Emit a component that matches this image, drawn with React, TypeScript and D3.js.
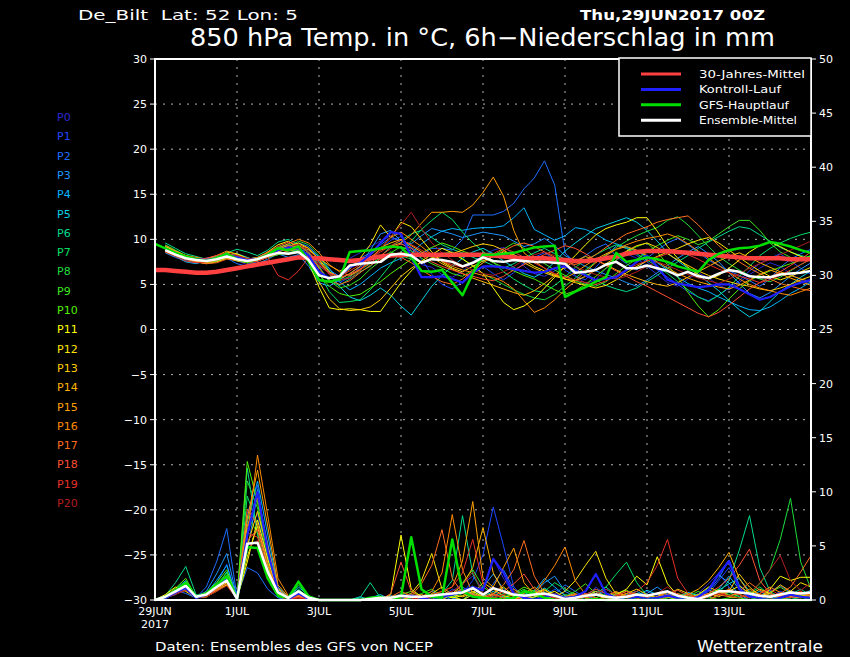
import React from 'react';
import * as d3 from 'd3';

// ---------------- DATA ----------------
// time axis: 6-hourly from 29JUN2017 00Z (hour 0) to hour 384
const dateLabels = ['29JUN', '1JUL', '3JUL', '5JUL', '7JUL', '9JUL', '11JUL', '13JUL'];
const dateHours = [0, 48, 96, 144, 192, 240, 288, 336];
const tempTicks = [-30, -25, -20, -15, -10, -5, 0, 5, 10, 15, 20, 25, 30];
const precTicks = [0, 5, 10, 15, 20, 25, 30, 35, 40, 45, 50];
const memberNames = ['P0','P1','P2','P3','P4','P5','P6','P7','P8','P9','P10','P11','P12','P13','P14','P15','P16','P17','P18','P19','P20'];
const memberColors = ['#2a2ad2','#1e46ff','#1e6eff','#1e96ff','#00b4ff','#00d2e6','#00dc8c','#00e164','#1edc3c','#3ce61e','#50f000','#ffff00','#ffe600','#ffcd00','#ffb400','#ffa000','#ff8c00','#ff6e1e','#ff5032','#e63228','#b41e1e'];

// 850 hPa temperature of members, from hour 6
const t00 = [9.0,8.4,7.8,7.5,7.4,7.9,8.3,7.6,7.2,7.9,8.6,9.0,8.8,9.2,8.1,6.5,5.6,6.0,7.9,8.5,9.2,9.8,10.4,9.6,8.8,7.2,6.9,6.1,5.8,6.4,7.5,8.2,8.8,9.1,8.4,7.0,6.2,5.9,6.5,7.2,6.0,5.1,5.5,6.8,7.7,8.4,7.9,7.0,6.1,5.2,4.8,5.6,6.3,5.7,4.9,4.4,5.2,6.1,6.8,7.4,7.0,6.2,5.5,5.0];
const t01 = [9.3,8.6,8.0,7.6,7.3,7.6,8.0,8.2,7.7,7.5,8.3,8.9,9.4,9.0,8.2,7.0,6.4,5.2,5.8,6.9,7.6,8.9,9.9,10.3,9.0,7.8,6.1,5.0,4.5,5.3,6.4,7.0,6.2,5.5,6.3,7.4,8.0,8.5,7.8,6.6,5.9,5.5,6.9,8.1,9.3,9.0,8.2,7.5,6.6,5.8,5.0,4.2,3.6,3.2,3.8,4.6,5.4,6.5,7.3,7.9,8.4,7.6,6.8,6.1];
const t02 = [8.7,8.2,7.7,7.8,7.9,8.1,7.9,7.3,7.0,7.6,8.1,8.7,9.1,9.6,9.2,8.0,6.6,5.9,6.8,7.9,8.5,9.4,10.2,9.9,9.1,8.4,9.0,9.0,8.8,10.0,12.7,12.7,12.7,13.1,14.0,15.6,16.8,18.7,16.0,8.5,7.4,8.2,9.0,9.5,8.1,7.3,6.6,7.9,8.8,9.6,10.1,9.4,8.6,7.7,7.1,6.5,6.0,5.4,4.8,5.6,6.9,7.8,8.4,8.9];
const t03 = [8.5,8.0,7.6,7.4,7.5,7.7,8.2,7.9,7.4,7.3,7.8,8.4,8.0,8.3,7.0,5.2,4.8,5.5,6.2,7.0,8.8,10.6,11.0,9.8,9.5,10.4,11.2,10.9,10.6,10.2,10.5,10.8,10.6,10.4,9.8,9.2,9.5,10.1,9.3,8.2,7.6,7.0,6.5,6.1,5.7,5.2,4.8,5.5,6.3,7.1,7.9,8.6,9.2,8.4,7.5,6.3,5.1,4.0,3.5,4.1,5.0,5.9,6.7,7.4];
const t04 = [8.8,8.1,7.5,7.3,7.6,8.0,8.4,8.1,7.8,8.0,8.5,8.8,9.0,8.7,8.9,8.1,6.8,5.3,4.4,5.0,5.9,6.8,7.4,7.9,8.4,9.5,10.3,10.9,11.2,11.0,11.2,11.3,11.3,11.5,12.4,13.5,11.1,10.5,9.9,10.4,11.3,11.1,10.6,9.9,9.5,9.1,8.7,8.0,7.4,6.6,5.8,5.1,4.6,4.2,3.6,3.1,2.6,2.2,2.1,2.5,3.2,4.0,4.6,5.3];
const t05 = [9.1,8.7,8.1,7.8,7.7,7.9,8.2,8.4,8.0,7.6,8.0,8.3,8.7,8.9,8.4,7.5,6.2,4.8,3.6,3.2,3.8,4.6,3.8,2.6,1.6,3.2,4.8,6.0,7.0,7.9,8.6,9.0,8.4,7.6,6.9,6.2,5.8,6.4,7.5,8.7,9.6,10.4,11.2,11.6,12.0,12.4,11.9,11.0,9.8,8.5,7.6,6.8,6.1,5.2,4.3,3.2,2.2,1.4,2.0,3.1,4.2,5.0,5.8,6.5];
const t06 = [9.6,9.0,8.4,8.1,7.8,7.6,8.5,8.9,8.6,8.2,8.8,9.7,10.0,9.4,8.6,7.0,5.3,4.9,5.6,6.4,7.0,8.1,9.2,9.9,10.6,11.0,10.2,9.4,8.9,8.5,8.0,7.6,7.1,6.8,7.3,7.9,8.5,9.0,8.4,7.8,7.0,6.2,5.5,4.9,4.5,4.2,4.6,5.3,6.0,6.8,7.5,8.2,9.0,9.7,10.3,10.9,11.4,11.2,10.5,9.8,9.1,8.6,8.2,7.9];
const t07 = [9.2,8.5,8.0,7.9,7.8,8.1,8.4,8.0,7.5,7.8,8.4,9.1,9.5,9.0,8.0,6.3,4.2,3.0,3.1,3.3,4.4,5.8,7.2,8.6,9.8,11.1,12.1,13.0,12.2,10.8,9.6,8.7,7.5,6.4,5.6,4.9,4.3,4.1,4.9,5.8,6.9,7.7,8.3,8.9,9.4,9.0,8.4,7.7,7.0,6.2,5.3,4.4,3.6,3.1,3.8,4.7,5.9,7.0,8.2,9.0,9.6,10.1,10.5,10.8];
const t08 = [9.4,8.8,8.2,7.9,7.7,7.7,8.0,8.2,7.9,7.7,8.1,8.6,9.1,9.8,9.4,8.2,6.5,5.4,5.9,6.6,7.3,7.9,8.6,8.2,7.8,7.5,7.9,8.4,8.6,7.9,7.0,6.2,5.6,5.0,4.4,3.9,3.5,3.3,3.9,4.8,5.7,6.6,7.5,8.3,9.1,9.8,10.4,10.9,11.3,12.1,12.5,11.6,10.4,9.2,8.1,7.3,6.6,6.0,5.6,5.3,5.8,6.5,7.2,7.8];
const t09 = [8.9,8.4,7.9,7.6,7.4,7.6,7.9,7.7,7.4,7.6,8.0,8.3,8.5,8.8,8.2,6.9,5.4,4.6,4.9,5.6,6.7,7.6,8.5,9.2,8.7,7.9,7.3,6.8,6.2,5.9,6.6,7.4,8.2,8.9,9.6,9.0,8.1,7.3,6.6,6.0,5.4,5.0,4.8,5.3,6.2,7.1,7.8,8.6,9.3,9.9,10.4,10.0,9.4,9.8,10.6,11.4,12.1,12.1,11.0,9.6,8.6,8.0,7.8,8.2];
const t10 = [9.0,8.6,8.1,7.7,7.5,7.9,8.2,7.8,7.5,7.7,8.2,8.7,8.9,8.5,7.6,6.1,4.8,4.0,3.7,3.9,4.6,5.3,6.2,7.0,7.8,8.5,9.1,9.6,9.2,8.7,8.3,8.0,7.4,6.9,6.5,6.0,5.6,5.0,4.4,3.9,4.3,5.0,5.9,6.8,7.7,8.6,9.2,9.6,8.6,7.2,5.8,4.1,2.6,1.4,2.2,3.4,4.5,5.4,6.0,6.5,6.9,7.3,7.7,8.2];
const t11 = [9.2,8.7,8.2,7.8,7.6,7.8,8.6,8.4,7.9,7.8,8.6,9.4,9.8,9.1,7.4,4.7,2.4,2.2,2.3,2.2,2.0,2.0,3.6,5.2,6.5,7.6,8.3,9.0,8.5,7.8,7.1,6.2,4.6,3.0,2.2,2.6,3.4,4.6,5.8,7.1,8.2,9.4,10.5,11.2,11.6,11.9,12.4,12.4,10.9,9.2,7.9,6.9,6.1,5.6,6.0,6.8,7.7,8.6,9.3,9.7,9.2,8.6,8.1,7.7];
const t12 = [8.6,8.2,7.8,7.5,7.3,7.5,7.9,7.6,7.4,7.8,8.3,8.8,9.2,9.6,9.0,7.8,6.4,5.8,6.7,7.9,9.4,11.6,10.2,11.9,11.4,10.0,8.6,7.5,6.8,6.4,7.0,7.6,8.1,8.6,8.3,7.7,7.0,6.5,6.0,5.6,5.2,4.9,4.6,4.9,5.5,6.3,7.0,7.6,8.1,8.6,9.0,9.5,9.9,10.2,9.6,8.8,8.0,7.2,6.5,5.9,5.5,5.9,6.4,6.9];
const t13 = [8.8,8.3,7.9,7.7,7.6,7.8,8.0,7.9,7.7,7.9,8.4,8.9,9.3,8.9,7.6,5.3,3.4,2.3,2.1,2.2,2.5,3.3,4.6,5.9,6.8,7.5,7.9,8.1,8.4,8.8,9.2,9.5,9.3,8.8,8.1,7.4,6.8,6.3,5.9,5.6,5.4,5.9,6.6,7.3,8.0,8.7,9.3,9.6,9.1,8.4,7.7,7.1,6.5,6.0,5.6,5.3,5.0,4.8,4.5,4.3,4.6,5.0,5.5,5.9];
const t14 = [9.0,8.4,7.9,7.7,7.7,8.0,8.3,8.0,7.6,7.7,8.2,8.6,9.0,9.3,8.8,7.9,7.1,6.5,6.9,7.5,8.3,9.1,9.6,10.0,9.3,8.6,8.0,7.3,6.7,6.2,5.7,5.3,4.9,4.5,4.1,3.8,4.3,5.1,6.0,6.9,7.6,8.1,7.7,7.2,6.6,6.1,5.7,5.3,5.0,4.8,5.2,5.8,6.4,7.0,7.6,8.1,8.5,8.0,7.4,6.9,6.4,6.0,5.6,5.3];
const t15 = [8.7,8.3,7.9,7.6,7.4,7.7,8.1,7.9,7.6,7.8,8.3,8.7,9.0,9.4,9.0,7.7,6.1,5.6,6.2,7.0,8.0,8.8,9.2,9.6,10.5,11.8,13.0,13.0,13.1,13.0,13.8,15.2,16.9,14.8,11.0,8.5,7.6,6.8,6.1,5.7,6.3,7.1,7.8,8.4,8.9,9.2,8.8,8.2,7.5,6.8,6.2,5.7,5.3,5.0,4.7,4.5,4.9,5.5,6.1,6.6,6.2,5.7,5.3,4.9];
const t16 = [9.3,8.7,8.2,8.0,7.8,8.2,8.7,8.3,7.8,8.0,8.6,9.0,9.5,10.0,9.6,8.5,7.2,6.4,6.0,6.6,7.8,9.0,10.2,10.8,10.0,9.2,8.3,7.6,7.0,6.6,6.3,6.0,5.8,5.3,4.5,3.2,1.9,2.4,3.3,4.4,5.4,6.4,7.4,8.2,8.9,9.4,9.8,10.1,10.3,10.6,10.2,9.5,8.7,7.9,7.1,6.3,5.6,5.0,4.6,4.3,4.0,3.8,4.2,4.6];
const t17 = [8.9,8.3,7.8,7.5,7.3,7.4,7.8,7.7,7.4,7.6,8.0,8.4,8.7,9.0,8.3,6.8,5.5,5.0,5.4,6.3,7.1,7.8,8.2,8.0,7.4,6.6,5.9,5.3,5.0,5.6,6.5,7.4,8.1,8.7,9.3,9.6,9.2,8.6,8.0,7.5,7.2,7.6,8.3,9.1,9.9,10.6,11.0,11.4,11.9,12.2,12.4,12.6,11.6,10.4,9.3,8.3,7.5,6.8,6.2,5.6,5.1,4.8,4.5,4.3];
const t18 = [9.1,8.5,8.0,7.8,7.9,8.2,8.5,8.1,7.7,7.9,8.5,9.2,9.7,9.3,8.5,7.3,6.3,5.8,6.1,6.7,7.4,8.2,9.0,9.5,9.0,8.2,7.5,7.0,6.6,6.2,5.9,5.6,5.4,5.9,6.6,7.2,7.8,8.3,8.8,9.3,9.0,8.4,7.7,7.1,6.5,5.9,5.3,4.8,4.2,3.6,3.0,2.4,1.8,1.4,1.9,2.7,3.6,4.5,5.2,5.8,6.4,7.1,7.8,8.6];
const t19 = [8.6,8.1,7.6,7.4,7.5,7.7,8.0,7.8,7.5,7.6,8.0,6.0,5.5,6.5,8.0,7.1,6.2,5.9,6.5,7.2,7.9,8.6,9.3,9.9,9.4,8.8,8.2,7.6,7.2,6.9,7.3,7.8,8.4,9.0,8.6,8.0,7.4,6.8,6.2,5.8,5.5,5.2,5.0,5.4,6.0,6.6,7.2,7.6,8.0,8.4,8.7,8.3,7.8,7.2,6.7,6.3,5.9,5.6,5.2,5.5,6.0,6.6,7.2,7.8];
const t20 = [9.0,8.5,8.1,7.9,7.7,7.9,8.3,8.2,7.9,7.8,8.2,8.7,9.2,9.4,8.7,7.4,6.1,5.5,5.7,6.5,7.6,8.9,10.3,11.6,13.0,11.2,9.6,8.5,7.7,7.1,6.6,6.2,6.0,6.4,7.0,7.7,8.3,8.6,8.2,7.6,7.0,6.5,6.1,5.8,5.6,5.9,6.4,7.0,7.5,7.1,6.6,6.1,5.7,5.4,5.1,5.6,6.2,6.8,7.3,7.8,8.3,8.8,9.3,9.8];
const memberTemps = [t00,t01,t02,t03,t04,t05,t06,t07,t08,t09,t10,t11,t12,t13,t14,t15,t16,t17,t18,t19,t20];

// control run (from hour 6), GFS main run (from hour 0), ensemble mean (from hour 6), 30-year mean (from hour 0)
const controlTemp = [9.0,8.4,8.0,7.8,7.7,7.9,8.2,8.0,7.7,7.8,8.3,8.8,9.1,9.0,8.2,6.4,5.7,5.9,6.9,7.4,8.3,9.6,10.8,10.6,8.0,5.8,5.8,5.9,5.6,5.2,6.3,7.0,7.0,6.9,6.7,6.5,6.3,6.4,6.8,7.0,6.6,6.0,5.5,5.6,5.8,6.6,7.5,8.2,7.0,5.5,5.1,4.9,4.7,4.8,5.0,5.0,4.5,3.9,3.3,3.6,4.2,4.8,5.2,5.5];
const gfsTemp = [9.5,9.0,8.5,8.1,7.8,7.6,7.9,8.4,7.8,7.5,7.8,8.3,9.0,8.8,9.2,7.5,5.5,5.3,5.6,8.6,8.7,8.8,9.0,9.2,9.1,8.0,6.5,6.4,6.6,5.2,3.8,6.2,8.3,8.3,8.4,8.5,8.8,9.1,9.2,9.3,3.6,4.2,4.7,5.3,5.8,8.5,7.5,7.7,8.0,7.8,7.5,7.0,6.7,6.4,7.7,8.4,8.8,9.0,9.1,9.3,9.7,9.5,9.2,8.8,8.5];
const meanTemp = [8.8,8.3,7.9,7.7,7.6,7.8,8.1,7.8,7.6,7.8,8.2,8.5,8.4,8.6,7.7,6.0,5.7,5.9,7.1,7.3,7.4,7.5,8.3,8.4,8.2,7.4,7.8,7.7,7.5,7.0,7.4,8.0,7.6,7.5,7.7,7.6,7.5,7.5,7.4,7.3,6.3,6.4,6.6,7.2,7.5,6.8,6.8,7.1,6.8,6.5,6.0,6.4,5.9,5.7,6.2,6.6,6.4,5.9,5.8,5.8,6.1,6.2,6.3,6.5];
const climTemp = [6.6,6.6,6.5,6.4,6.3,6.3,6.4,6.6,6.8,7.0,7.2,7.4,7.6,7.8,8.0,7.9,7.9,7.8,7.7,7.6,7.7,7.9,8.1,8.2,8.3,8.3,8.3,8.3,8.3,8.3,8.3,8.3,8.3,8.2,8.1,8.0,7.9,7.9,7.9,7.8,7.7,7.6,7.6,7.7,7.9,8.1,8.4,8.6,8.7,8.7,8.7,8.6,8.5,8.4,8.3,8.2,8.1,8.0,7.9,7.9,7.9,7.9,7.8,7.8,7.8];

// 6h precipitation (mm) of members, from hour 0
const p00 = [0,0.2,0.8,1.2,0.2,0.4,1.0,2.0,0.1, 6.5,8.0,3.0,0.4,0,0.8,0.2,0, 0,0,0,0,0,0,0.2,0.6, 0.3,0,0.5,0,0.8,1.5,2.2,1.0, 3.8,2.0,0.5,0,0.3,0.6,0.2,0, 0,0.2,1.2,0.5,0,0,0.3,0.8, 0.4,0,0,0.2,0.6,1.5,2.5,1.2, 0.3,0,0.4,0.8,1.3,0.7,0.2,0.5];
const p01 = [0,0.1,0.6,1.0,0.3,0.5,1.5,3.3,0.2, 8.0,10.6,4.0,0.6,0.1,0.5,0,0, 0,0,0,0,0,0,0,0.3, 0.5,0.2,0,0.3,1.0,0.6,1.8,4.2, 8.6,5.0,1.2,0.3,0,0.4,1.0,0.5, 0.2,0,0.6,0.3,0,0,0.2,0, 0.3,0.8,0.4,0,0,0.6,1.8,3.0, 1.2,0.3,0,0.2,0.8,0.4,0,0.3];
const p02 = [0,0.3,0.9,0.6,0.2,1.2,3.5,6.6,0.3, 3.0,2.5,1.0,0.2,0,0.3,0,0, 0,0,0,0,0,0,0,0, 0,0.3,0.8,0.4,0,1.2,0.6,0.2, 1.5,2.8,1.0,0.4,0.2,0,0.5,1.4, 0.8,0.2,0,0.3,0.6,0.2,0,0, 0.2,0.6,0.3,0,0.2,0.8,2.0,3.7, 1.4,0.5,0.2,0,0.3,0.9,0.4,0.2];
const p03 = [0,0.2,0.5,1.4,0.3,0.8,2.4,4.3,0.2, 4.5,9.8,5.2,1.0,0.2,0,0,0, 0,0,0,0,0,0,0.4,0.2, 0,0,0.3,0.6,0.2,0,0.5,1.2, 2.4,1.0,0.3,0,0.6,1.6,2.2,0.8, 0.3,0,0.4,1.0,0.5,0,0.2,0.6, 1.2,0.5,0,0,0.4,1.1,2.3,1.6, 0.5,0,0.3,0.6,0.2,0,0.4,0.8];
const p04 = [0,0.3,1.0,1.8,0.4,0.6,1.8,3.2,0.1, 7.2,11.0,6.0,1.2,0.3,0.6,0.1,0, 0,0,0,0,0.2,0.5,0,0, 0.2,0,0,0.5,0.3,0.8,0.4,0, 0.6,0.3,0,0.2,0.8,2.0,1.2,0.4, 0,0.3,0.8,0.4,0,0.5,0.8,0.3, 0,0.2,0.6,0.2,0,0.4,1.0,2.2, 1.0,0.4,0.8,0.3,0,0.2,0.6,0.3];
const p05 = [0,0.2,0.7,1.3,0.2,0.4,1.2,2.6,0.1, 5.8,10.2,4.4,0.8,0.1,1.2,0.4,0, 0,0,0,0.3,0,0,0,0.2, 0.4,0.2,0,0,0.5,1.0,0.6,0.3, 0.8,0.4,0,0.3,0.6,1.1,0.5,0, 0.2,0.5,1.0,0.6,0.2,0,0.4,0.9, 0.5,0,0.3,0.7,0.4,0.2,0.9,1.5, 2.0,0.8,0.3,0,0.4,0.2,0.5,0.9];
const p06 = [0,0.4,1.6,3.1,0.5,0.3,0.9,1.6,0, 12.2,6.0,2.0,0.3,0,1.0,0.2,0, 0,0,0,0.2,1.6,0.2,0,0, 0,0.2,0.4,0.6,1.8,7.8,2.4,0.6, 0.3,0,0.2,0.5,0.9,0.4,0,0, 0,0.3,0.6,1.2,0.4,0,0.2,0.4, 0.2,0,0,0.3,0.5,0.9,0.6,1.8, 4.6,7.8,3.0,0.8,0.2,0.5,1.0,0.4];
const p07 = [0,0.2,0.8,1.5,0.3,0.4,1.1,2.2,0.1, 9.6,7.0,3.0,0.5,0.2,0.9,0.3,0, 0,0,0,0,0,0.3,0,0, 0.5,0.3,0,0.4,0.2,0.6,1.3,0.5, 0.2,0.6,0.4,0,0.2,0.8,1.6,1.0, 0.5,0.2,0.6,1.2,2.4,3.5,1.6,0.4, 0.2,0,0.3,0.6,0.2,0,0.4,0.7, 0.3,0.6,1.2,0.5,0.2,0,0.3,0.6];
const p08 = [0,0.3,0.9,1.7,0.4,0.6,1.4,2.5,0.1, 11.0,8.5,3.6,0.6,0.1,1.4,0.3,0, 0,0,0,0,0,0,0,0.2, 0.3,0,0.2,0.5,0.4,0,0.8,0.3, 0,0.3,0.5,1.0,0.4,0,0.2,0.5, 0.3,0,0.2,0.6,0.3,0,0.4,0.2, 0,0.3,0.5,0.2,0,0.4,0.8,0.5, 0.2,0.6,1.5,2.8,5.6,9.4,3.5,1.0];
const p09 = [0,0.2,0.6,1.1,0.2,0.5,1.3,1.9,0.1, 7.8,6.2,2.4,0.4,0,0.6,0.1,0, 0,0,0,0,0,0,0,0, 0.2,0.6,1.0,0.4,0.3,1.6,2.8,1.2, 0.6,0.2,0,0.3,0.5,0.2,0,0.3, 0.8,1.5,0.6,0.2,0,0.3,0.6,0.2, 0,0.2,0.6,0.3,0.8,0.3,0,0.2, 0.5,0.8,0.3,0,0.2,0.6,0.4,0.2];
const p10 = [0,0.3,1.1,2.0,0.3,0.7,1.6,2.8,0.2, 12.8,9.0,4.2,0.8,0.2,1.6,0.4,0, 0,0,0,0,0,0,0.3,0.5, 0.8,0.3,0,0.2,0.6,1.0,0.4,0.2, 0,0.2,0.6,1.2,0.8,0.3,0,0.2, 0.4,0.2,0,0.3,0.6,0.9,0.4,0, 0.2,0.5,0.3,0,0.2,0.6,1.0,0.4, 0.2,0,0.3,0.7,1.2,0.6,0.3,0.5];
const p11 = [0,0.5,1.2,0.8,0.2,0.3,0.9,1.4,0.1, 3.5,7.4,3.8,0.6,0.1,0.5,0,0, 0,0,0,0,0,0,0.5,6.0, 1.0,0.3,0,0.5,0.2,0.4,0.8,0.3, 0.6,1.2,0.4,0,0.3,0.5,0.8,0.2, 0,0.3,0.6,0.2,0.5,1.0,2.2,1.4, 4.0,1.5,0.4,0,0.3,0.6,0.3,0.8, 1.3,0.6,0.2,1.0,2.2,1.8,2.1,2.1];
const p12 = [0,0.3,0.8,1.0,0.3,0.4,1.0,1.6,0.1, 4.0,6.8,3.2,0.5,0,0.3,0.1,0, 0,0,0,0,0,0,0,0.3, 0.6,1.8,4.3,1.0,0.3,0,0.5,0.2, 0.5,0.2,0,0.4,0.6,1.0,0.3,0.8, 1.8,3.2,4.5,2.0,0.5,0.2,0,0.3, 0.6,0.3,0,0.2,0.5,1.2,0.8,0.3, 0.2,0.5,1.0,0.6,0.3,0.8,1.6,1.2];
const p13 = [0,0.2,0.7,0.9,0.2,0.3,0.8,1.4,0.2, 5.0,8.2,4.6,1.0,0.2,0.4,0,0, 0,0,0,0,0,0,0.2,0.4, 0.2,0,0.6,1.2,0.5,0.3,0.6,1.6, 1.0,0.4,0.2,0,0.5,0.9,0.4,0.2, 0,0.4,0.8,0.3,0.2,0.6,1.0,0.5, 0.2,0.5,1.0,0.6,0.2,0,0.5,0.8, 2.4,1.2,0.4,0.6,1.4,0.8,0.3,0.6];
const p14 = [0,0.3,0.9,1.2,0.3,0.5,1.2,2.0,0.2, 6.8,9.5,5.0,1.1,0.2,0.3,0,0, 0,0,0,0,0,0,0,0, 0.3,0.5,0.2,0,0.6,1.4,3.0,6.7, 2.5,0.8,0.3,0.6,1.2,0.5,0,0.2, 0.5,0.2,0,0.3,0.7,0.4,0,0.2, 0.6,0.3,0.2,0.5,1.0,1.8,3.0,4.4, 2.0,0.6,0.3,0,0.4,0.8,0.5,0.3];
const p15 = [0,0.4,1.0,1.4,0.3,0.6,1.4,2.3,0.1, 7.5,12.0,6.8,1.4,0.3,0.5,0,0, 0,0,0,0,0,0.2,0,0, 0,0.2,0.5,0.8,1.2,3.6,9.1,2.0, 1.2,3.0,4.8,1.6,0.5,0.2,0,0.3, 0.6,0.2,0,0.4,0.8,0.3,0.2,0, 0.3,0.7,0.4,0,0.2,0.5,0.8,0.4, 0.6,1.0,0.5,0.2,0,0.3,0.7,0.4];
const p16 = [0,0.2,0.8,1.1,0.2,0.4,1.0,1.8,0.1, 6.0,13.4,7.8,2.0,0.4,0.2,0,0, 0,0,0,0,0,0,0,0.2, 0.5,0.3,0.8,2.5,7.9,2.8,0.6,0.3, 0.2,0.5,1.0,0.4,0.6,1.8,3.2,4.9, 1.8,0.5,0.2,0,0.3,0.6,0.2,0, 0.3,0.8,0.5,0.2,0,0.3,0.6,1.0, 0.5,0.2,0.6,1.2,0.7,0.3,0.2,0.6];
const p17 = [0,0.3,0.9,1.3,0.3,0.5,1.3,2.1,0.2, 8.4,7.0,3.4,0.6,0.1,0.4,0,0, 0,0,0,0,0,0,0.3,0.8, 0.4,1.5,3.2,6.5,2.0,0.6,0.3,0.2, 0.6,1.4,2.8,5.5,2.2,0.6,0.2,0, 0.3,0.6,0.2,0,0.4,0.8,0.5,0.2, 0,0.3,0.6,0.2,0.4,0.9,0.5,0.3, 0.8,1.6,0.9,0.4,0.6,1.2,2.6,4.1];
const p18 = [0,0.2,0.6,1.0,0.2,0.4,0.9,1.5,0.1, 5.5,6.5,2.8,0.5,0.1,0.3,0,0, 0,0,0,0,0,0,0.6,3.5, 0.8,0.2,0,0.3,0.6,1.0,0.5,0.2, 0.4,0.8,1.5,2.4,1.0,0.3,0,0.2, 0.5,0.3,0,0.2,0.4,0.8,0.3,0, 0.2,0.5,0.9,0.4,0.2,0.6,1.2,2.0, 3.2,4.7,1.8,0.6,0.3,0.5,0.8,0.4];
const p19 = [0,0.2,0.7,1.2,0.3,0.5,1.1,1.7,0.1, 6.2,5.8,2.5,0.4,0,0.2,0,0, 0,0,0,0,0,0,0,0.2, 0.3,0,0.4,0.8,1.2,2.5,5.6,1.5, 0.5,0.2,0,0.3,0.6,0.4,0.2,0, 0.2,0.5,1.0,0.6,0.2,0.4,0.8,1.6, 3.2,5.6,2.0,0.6,0.2,0,0.4,0.8, 0.5,0.2,0.6,1.0,0.4,0.2,0.5,0.8];
const p20 = [0,0.2,0.5,0.9,0.2,0.3,0.8,1.3,0.1, 4.8,5.5,2.2,0.4,0,0.2,0,0, 0,0,0,0,0,0,0.2,0.5, 0.2,0,0.3,0.5,0.8,1.4,2.6,0.6, 0.2,0.5,0.8,0.3,0,0.4,0.6,0.2, 0,0.3,0.6,1.0,0.5,0.2,0,0.3, 0.6,1.2,0.5,0.2,0,0.3,0.6,0.4, 0.2,0.6,1.6,2.8,4.1,1.8,0.9,1.6];
const memberPrecs = [p00,p01,p02,p03,p04,p05,p06,p07,p08,p09,p10,p11,p12,p13,p14,p15,p16,p17,p18,p19,p20];

const controlPrec = [0,0.2,0.7,1.1,0.2,0.5,1.2,2.0,0.1, 6.0,10.0,4.5,0.8,0.1,0.6,0.1,0, 0,0,0,0,0,0,0,0.3, 0.4,0.2,0,0.3,0.5,0.8,1.2,0.9, 3.8,2.5,0.6,0.2,0,0.3,0.5,0.2, 0.3,0.8,2.4,0.6,0.2,0,0.3,0.1, 0.2,0.4,0.2,0,0.3,0.9,2.4,3.6, 1.0,0.3,0.2,0,0.2,0.5,0.3,0.2];
const gfsPrec = [0,0.3,0.9,1.6,0.3,0.6,1.4,2.2,0.1, 4.9,4.8,2.0,0.4,0.2,1.7,0.3,0, 0,0,0,0,0.2,0.3,0,0.3, 5.8,1.0,0.3,0.2,5.6,0.8,0.3,0.2, 0.1,0,0.2,0.8,0.6,0.2,0,0, 0,0,0.1,0,0,0,0,0, 0,0,0,0,0,0,0,0, 0,0,0,0,0,0,0,0];
const meanPrec = [0,0.3,0.8,1.3,0.3,0.5,1.2,1.8,0.1, 5.2,5.3,2.6,0.7,0.2,0.8,0.2,0, 0,0,0,0,0.1,0.2,0.2,0.4, 0.3,0.3,0.4,0.5,0.6,0.7,1.1,0.5, 1.1,0.8,0.5,0.4,0.5,0.6,0.4,0.1, 0.2,0.4,0.5,0.3,0.2,0.3,0.5,0.4, 0.6,0.8,0.4,0.2,0.1,0.4,0.8,0.8, 0.7,0.6,0.4,0.3,0.5,0.7,0.6,0.7];

const legendItems = ['30-Jahres-Mittel', 'Kontroll-Lauf', 'GFS-Hauptlauf', 'Ensemble-Mittel'];
const legendColors = ['#ff4040', '#2020ff', '#00e000', '#ffffff'];

// ---------------- CHART ----------------
const W = 850, H = 657;
const PL = 155, PR = 811, PT = 59, PB = 600;
const x = d3.scaleLinear().domain([0, 384]).range([PL, PR]);
const yT = d3.scaleLinear().domain([-30, 30]).range([PB, PT]);
const yP = d3.scaleLinear().domain([0, 50]).range([PB, PT]);
const FONT = 'DejaVu Sans, Liberation Sans, sans-serif';
const legendWidths = [106, 82, 90, 98];

const toPts = (vals: number[], start: number) => vals.map((v, i) => [start + 6 * i, v] as [number, number]);
const lineT = d3.line<[number, number]>().x(d => x(d[0])).y(d => yT(d[1]));
const lineP = d3.line<[number, number]>().x(d => x(d[0])).y(d => yP(d[1]));

export default function App() {
  const gridH = tempTicks.filter(t => t > -30 && t < 30);
  const gridV = dateHours.filter(h => h > 0);
  return (
    <div style={{ position: 'fixed', left: 0, top: 0, width: W, height: H, background: '#000' }}>
      <svg width={W} height={H} style={{ display: 'block', background: '#000' }}>
        {/* titles */}
        <text x={78} y={20} fill="#fff" fontFamily={FONT} fontSize={14} style={{ whiteSpace: 'pre' }} textLength={220} lengthAdjust="spacingAndGlyphs">{'De_Bilt  Lat: 52 Lon: 5'}</text>
        <text x={580} y={20} fill="#fff" fontFamily={FONT} fontSize={14} fontWeight="bold" textLength={185} lengthAdjust="spacingAndGlyphs">Thu,29JUN2017 00Z</text>
        <text x={190} y={46} fill="#fff" fontFamily={FONT} fontSize={24} textLength={585} lengthAdjust="spacingAndGlyphs">850 hPa Temp. in °C, 6h−Niederschlag in mm</text>

        {/* grid */}
        <g stroke="#b4b4b4" strokeWidth={1} strokeDasharray="2 6">
          {gridH.map(t => <line key={'h' + t} x1={PL} x2={PR} y1={yT(t)} y2={yT(t)} />)}
          {gridV.map(h => <line key={'v' + h} x1={x(h)} x2={x(h)} y1={PT} y2={PB} />)}
        </g>

        {/* members */}
        <g fill="none" strokeWidth={1} strokeLinejoin="round">
          {memberTemps.map((m, k) => <path key={'t' + k} d={lineT(toPts(m, 6)) || ''} stroke={memberColors[k]} />)}
          {memberPrecs.map((m, k) => <path key={'p' + k} d={lineP(toPts(m, 0)) || ''} stroke={memberColors[k]} />)}
        </g>
        {/* climatology, control, GFS, mean */}
        <g fill="none" strokeLinejoin="round">
          <path d={lineT(toPts(climTemp, 0)) || ''} stroke="#ff4040" strokeWidth={4.5} />
          <path d={lineT(toPts(controlTemp, 6)) || ''} stroke="#2020ff" strokeWidth={2.2} />
          <path d={lineP(toPts(controlPrec, 0)) || ''} stroke="#2020ff" strokeWidth={2.2} />
          <path d={lineT(toPts(gfsTemp, 0)) || ''} stroke="#00e000" strokeWidth={2.5} />
          <path d={lineP(toPts(gfsPrec, 0)) || ''} stroke="#00e000" strokeWidth={2.5} />
          <path d={lineT(toPts(meanTemp, 6)) || ''} stroke="#ffffff" strokeWidth={2.5} />
          <path d={lineP(toPts(meanPrec, 0)) || ''} stroke="#ffffff" strokeWidth={2.5} />
        </g>

        {/* frame */}
        <line x1={PL} x2={PL} y1={PT - 1} y2={PB + 1} stroke="#fff" strokeWidth={2} />
        <line x1={PR} x2={PR} y1={PT - 1} y2={PB + 1} stroke="#fff" strokeWidth={2} />
        <line x1={PL - 1} x2={PR + 1} y1={PT} y2={PT} stroke="#fff" strokeWidth={2} />
        <line x1={PL - 1} x2={PR + 1} y1={PB} y2={PB} stroke="#fff" strokeWidth={2} />

        {/* left axis */}
        {tempTicks.map(t => (
          <g key={'lt' + t}>
            <line x1={PL - 5} x2={PL} y1={yT(t)} y2={yT(t)} stroke="#fff" strokeWidth={1} />
            <text x={PL - 8} y={yT(t)} dy="0.36em" fill="#fff" fontFamily={FONT} fontSize={11} textAnchor="end">{t < 0 ? '−' + Math.abs(t) : String(t)}</text>
          </g>
        ))}
        {/* right axis */}
        {precTicks.map(p => (
          <g key={'rt' + p}>
            <line x1={PR} x2={PR + 5} y1={yP(p)} y2={yP(p)} stroke="#fff" strokeWidth={1} />
            <text x={PR + 8} y={yP(p)} dy="0.36em" fill="#fff" fontFamily={FONT} fontSize={11}>{p}</text>
          </g>
        ))}
        {/* x labels */}
        {dateLabels.map((d, i) => (
          <text key={d} x={x(dateHours[i])} y={615} fill="#fff" fontFamily={FONT} fontSize={11} textAnchor="middle">{d}</text>
        ))}
        <text x={x(0)} y={628} fill="#fff" fontFamily={FONT} fontSize={11} textAnchor="middle">2017</text>

        {/* member labels */}
        {memberNames.map((n, k) => (
          <text key={n} x={57} y={121 + 19.3 * k} fill={memberColors[k]} fontFamily={FONT} fontSize={11}>{n}</text>
        ))}

        {/* legend */}
        <rect x={619} y={58} width={192} height={78} fill="#000" stroke="#fff" strokeWidth={1.5} />
        {legendItems.map((l, i) => (
          <g key={l}>
            <line x1={641} x2={681} y1={74 + 15.4 * i} y2={74 + 15.4 * i} stroke={legendColors[i]} strokeWidth={3} />
            <text x={699} y={74 + 15.4 * i} dy="0.36em" fill="#fff" fontFamily={FONT} fontSize={10.5} textLength={legendWidths[i]} lengthAdjust="spacingAndGlyphs">{l}</text>
          </g>
        ))}

        {/* footer */}
        <text x={155} y={651} fill="#fff" fontFamily={FONT} fontSize={12} textLength={278} lengthAdjust="spacingAndGlyphs">Daten: Ensembles des GFS von NCEP</text>
        <text x={697} y={652} fill="#fff" fontFamily={FONT} fontSize={15} textLength={126} lengthAdjust="spacingAndGlyphs">Wetterzentrale</text>
      </svg>
    </div>
  );
}
